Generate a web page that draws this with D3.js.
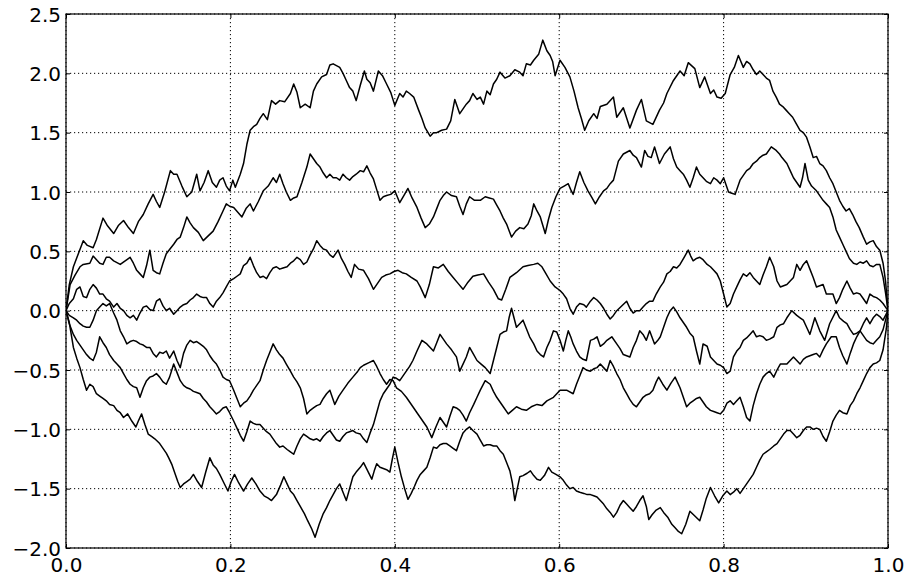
<!DOCTYPE html>
<html>
<head>
<meta charset="utf-8">
<script src="https://cdn.jsdelivr.net/npm/d3@7/dist/d3.min.js"></script>
<style>
  body { margin: 0; background: #fff; }
  svg { display: block; }
  .tick text { font-family: "DejaVu Sans", sans-serif; font-size: 20px; fill: #000; }
  .tick line { stroke: #000; stroke-width: 1; }
</style>
</head>
<body>
<svg width="912" height="581"></svg>
<script>
// six bridge paths as [t, value]
var pathA = [[0,0],[0.004,0.22],[0.009,0.37],[0.015,0.48],[0.021,0.59],[0.026,0.55],[0.033,0.53],[0.037,0.60],[0.045,0.78],[0.050,0.72],[0.058,0.65],[0.064,0.72],[0.070,0.76],[0.076,0.70],[0.082,0.65],[0.088,0.75],[0.094,0.81],[0.100,0.90],[0.106,0.98],[0.110,0.92],[0.114,0.87],[0.120,1.00],[0.127,1.18],[0.131,1.15],[0.135,1.15],[0.141,1.05],[0.147,0.96],[0.153,1.00],[0.159,1.15],[0.163,1.01],[0.168,1.08],[0.173,1.18],[0.178,1.08],[0.183,1.04],[0.187,1.10],[0.191,1.12],[0.195,1.05],[0.199,1.01],[0.203,1.10],[0.206,1.04],[0.212,1.15],[0.216,1.24],[0.220,1.40],[0.224,1.52],[0.228,1.55],[0.232,1.57],[0.236,1.62],[0.240,1.66],[0.245,1.61],[0.250,1.77],[0.255,1.74],[0.260,1.77],[0.266,1.76],[0.273,1.83],[0.277,1.91],[0.281,1.84],[0.285,1.71],[0.291,1.74],[0.297,1.71],[0.301,1.85],[0.305,1.91],[0.311,1.97],[0.317,1.99],[0.321,2.07],[0.325,2.08],[0.333,2.05],[0.337,2.00],[0.341,1.94],[0.345,1.88],[0.349,1.85],[0.353,1.77],[0.358,1.90],[0.363,2.02],[0.366,1.95],[0.370,1.92],[0.374,1.85],[0.380,2.02],[0.385,1.98],[0.390,1.91],[0.395,1.84],[0.400,1.73],[0.406,1.83],[0.410,1.80],[0.414,1.85],[0.418,1.83],[0.423,1.80],[0.429,1.69],[0.433,1.62],[0.437,1.54],[0.443,1.47],[0.447,1.50],[0.451,1.50],[0.457,1.52],[0.463,1.53],[0.468,1.60],[0.473,1.78],[0.479,1.66],[0.483,1.70],[0.487,1.74],[0.491,1.77],[0.495,1.83],[0.500,1.78],[0.504,1.80],[0.508,1.74],[0.512,1.85],[0.516,1.82],[0.520,1.91],[0.524,1.95],[0.528,2.01],[0.534,1.96],[0.540,1.98],[0.546,2.03],[0.552,2.01],[0.556,1.98],[0.560,2.08],[0.565,2.07],[0.569,2.11],[0.575,2.16],[0.580,2.28],[0.585,2.19],[0.589,2.15],[0.592,2.10],[0.595,1.98],[0.601,2.11],[0.607,2.05],[0.613,1.97],[0.618,1.85],[0.623,1.71],[0.627,1.62],[0.631,1.52],[0.636,1.60],[0.642,1.66],[0.646,1.62],[0.650,1.72],[0.658,1.74],[0.666,1.80],[0.670,1.63],[0.678,1.71],[0.686,1.54],[0.694,1.69],[0.700,1.78],[0.706,1.60],[0.714,1.57],[0.722,1.69],[0.727,1.75],[0.731,1.83],[0.739,1.94],[0.747,2.02],[0.752,1.98],[0.757,2.09],[0.765,2.04],[0.771,1.88],[0.777,1.97],[0.784,1.83],[0.788,1.86],[0.792,1.80],[0.797,1.79],[0.802,1.83],[0.808,1.99],[0.813,2.05],[0.818,2.15],[0.824,2.05],[0.828,2.10],[0.832,2.08],[0.836,2.03],[0.840,1.99],[0.844,2.02],[0.848,1.99],[0.852,1.96],[0.856,1.94],[0.860,1.85],[0.864,1.80],[0.868,1.74],[0.872,1.72],[0.876,1.69],[0.880,1.66],[0.884,1.63],[0.888,1.58],[0.893,1.52],[0.897,1.50],[0.901,1.46],[0.905,1.38],[0.909,1.29],[0.913,1.30],[0.917,1.24],[0.921,1.22],[0.925,1.18],[0.929,1.12],[0.933,1.07],[0.937,1.00],[0.941,0.93],[0.945,0.88],[0.949,0.84],[0.953,0.86],[0.957,0.81],[0.961,0.75],[0.965,0.70],[0.970,0.62],[0.974,0.56],[0.978,0.58],[0.982,0.59],[0.986,0.54],[0.990,0.51],[0.994,0.40],[0.997,0.25],[1,0]];

var pathB = [[0,0],[0.005,0.22],[0.011,0.30],[0.017,0.37],[0.021,0.39],[0.029,0.40],[0.033,0.46],[0.041,0.40],[0.045,0.39],[0.049,0.45],[0.053,0.45],[0.058,0.42],[0.066,0.39],[0.072,0.42],[0.078,0.45],[0.082,0.40],[0.086,0.34],[0.090,0.31],[0.094,0.28],[0.098,0.38],[0.102,0.51],[0.106,0.34],[0.110,0.32],[0.114,0.31],[0.118,0.40],[0.122,0.48],[0.131,0.56],[0.135,0.60],[0.139,0.62],[0.143,0.70],[0.147,0.79],[0.151,0.74],[0.155,0.70],[0.161,0.66],[0.167,0.59],[0.173,0.63],[0.179,0.67],[0.185,0.75],[0.191,0.84],[0.195,0.90],[0.199,0.88],[0.204,0.87],[0.209,0.83],[0.214,0.79],[0.219,0.86],[0.224,0.90],[0.228,0.84],[0.234,0.92],[0.240,1.01],[0.246,1.05],[0.252,1.12],[0.256,1.08],[0.260,1.15],[0.264,1.07],[0.268,1.00],[0.273,0.93],[0.277,0.95],[0.281,0.96],[0.287,1.08],[0.293,1.21],[0.297,1.32],[0.301,1.28],[0.305,1.24],[0.309,1.21],[0.313,1.16],[0.317,1.12],[0.321,1.15],[0.325,1.12],[0.329,1.12],[0.333,1.10],[0.337,1.15],[0.341,1.12],[0.345,1.10],[0.349,1.13],[0.353,1.15],[0.358,1.18],[0.362,1.17],[0.366,1.22],[0.370,1.16],[0.374,1.11],[0.378,1.02],[0.382,0.93],[0.386,0.96],[0.390,0.97],[0.395,0.98],[0.400,1.01],[0.406,0.91],[0.411,0.97],[0.416,1.03],[0.421,0.95],[0.427,0.87],[0.432,0.78],[0.437,0.70],[0.442,0.73],[0.447,0.79],[0.451,0.86],[0.455,0.93],[0.459,0.97],[0.463,1.00],[0.469,0.97],[0.475,0.96],[0.479,0.88],[0.483,0.81],[0.487,0.90],[0.491,0.96],[0.497,0.93],[0.504,0.93],[0.510,0.96],[0.515,0.95],[0.520,0.94],[0.524,0.89],[0.528,0.84],[0.532,0.78],[0.536,0.73],[0.542,0.62],[0.547,0.67],[0.552,0.70],[0.557,0.69],[0.562,0.73],[0.566,0.80],[0.569,0.90],[0.573,0.84],[0.577,0.79],[0.580,0.72],[0.583,0.65],[0.587,0.77],[0.591,0.87],[0.596,0.96],[0.601,1.03],[0.606,1.05],[0.611,1.07],[0.614,1.02],[0.617,0.98],[0.621,1.08],[0.625,1.17],[0.630,1.08],[0.635,1.01],[0.640,0.95],[0.644,0.90],[0.649,0.96],[0.654,1.01],[0.658,1.03],[0.662,1.07],[0.666,1.10],[0.672,1.26],[0.678,1.32],[0.686,1.35],[0.690,1.31],[0.694,1.29],[0.700,1.21],[0.704,1.35],[0.708,1.30],[0.712,1.29],[0.716,1.38],[0.722,1.24],[0.728,1.32],[0.735,1.38],[0.739,1.28],[0.743,1.21],[0.747,1.18],[0.751,1.15],[0.755,1.10],[0.759,1.04],[0.763,1.12],[0.767,1.21],[0.771,1.15],[0.775,1.12],[0.779,1.09],[0.784,1.07],[0.788,1.12],[0.792,1.10],[0.796,1.07],[0.800,1.12],[0.806,1.00],[0.810,0.99],[0.814,0.98],[0.820,1.10],[0.824,1.14],[0.828,1.18],[0.832,1.20],[0.836,1.24],[0.840,1.26],[0.844,1.29],[0.848,1.31],[0.852,1.32],[0.858,1.38],[0.864,1.35],[0.868,1.32],[0.871,1.29],[0.877,1.24],[0.881,1.18],[0.885,1.12],[0.889,1.08],[0.893,1.04],[0.896,1.12],[0.899,1.24],[0.903,1.10],[0.907,1.05],[0.913,1.01],[0.917,0.97],[0.921,0.93],[0.925,0.90],[0.929,0.87],[0.933,0.79],[0.937,0.68],[0.941,0.62],[0.945,0.56],[0.949,0.50],[0.953,0.44],[0.958,0.40],[0.962,0.39],[0.966,0.41],[0.970,0.40],[0.974,0.42],[0.978,0.38],[0.982,0.37],[0.986,0.39],[0.990,0.39],[0.994,0.28],[0.997,0.15],[1,0]];

var pathC = [[0,0],[0.004,0.06],[0.009,0.10],[0.013,0.18],[0.017,0.20],[0.021,0.12],[0.025,0.11],[0.029,0.18],[0.033,0.22],[0.037,0.19],[0.041,0.14],[0.045,0.14],[0.049,0.10],[0.053,0.08],[0.058,0.03],[0.062,0.06],[0.066,0.02],[0.070,0.0],[0.074,-0.04],[0.078,-0.06],[0.082,-0.04],[0.086,-0.08],[0.090,-0.02],[0.094,0.03],[0.098,0.04],[0.102,0.01],[0.106,0.0],[0.110,0.08],[0.114,0.10],[0.118,0.04],[0.122,0.0],[0.126,0.02],[0.131,-0.03],[0.135,0.0],[0.139,0.03],[0.143,0.05],[0.147,0.06],[0.151,0.09],[0.155,0.11],[0.159,0.14],[0.163,0.12],[0.167,0.11],[0.171,0.11],[0.175,0.06],[0.179,0.03],[0.183,0.08],[0.187,0.11],[0.191,0.15],[0.195,0.20],[0.199,0.25],[0.204,0.27],[0.208,0.29],[0.212,0.31],[0.216,0.38],[0.220,0.40],[0.224,0.45],[0.228,0.38],[0.232,0.32],[0.236,0.28],[0.240,0.29],[0.244,0.27],[0.248,0.32],[0.252,0.36],[0.256,0.37],[0.260,0.35],[0.264,0.36],[0.269,0.37],[0.273,0.40],[0.277,0.42],[0.281,0.45],[0.285,0.43],[0.289,0.39],[0.293,0.41],[0.297,0.47],[0.301,0.52],[0.305,0.59],[0.309,0.55],[0.313,0.52],[0.317,0.51],[0.321,0.47],[0.325,0.45],[0.331,0.51],[0.335,0.44],[0.339,0.39],[0.343,0.33],[0.347,0.28],[0.351,0.39],[0.356,0.35],[0.362,0.34],[0.368,0.27],[0.374,0.18],[0.379,0.23],[0.384,0.28],[0.389,0.30],[0.394,0.31],[0.399,0.33],[0.404,0.34],[0.409,0.32],[0.414,0.31],[0.420,0.28],[0.427,0.25],[0.431,0.20],[0.437,0.11],[0.442,0.22],[0.447,0.37],[0.453,0.36],[0.459,0.39],[0.465,0.33],[0.471,0.28],[0.477,0.23],[0.483,0.18],[0.489,0.24],[0.495,0.29],[0.501,0.30],[0.508,0.31],[0.514,0.24],[0.520,0.18],[0.526,0.10],[0.530,0.09],[0.535,0.18],[0.540,0.28],[0.548,0.32],[0.556,0.37],[0.562,0.38],[0.569,0.39],[0.574,0.40],[0.579,0.37],[0.584,0.31],[0.589,0.25],[0.595,0.20],[0.601,0.17],[0.605,0.14],[0.609,0.10],[0.613,0.02],[0.617,-0.03],[0.621,0.03],[0.625,0.06],[0.630,0.05],[0.633,0.03],[0.638,0.08],[0.642,0.11],[0.646,0.09],[0.650,0.06],[0.654,0.02],[0.658,-0.03],[0.662,-0.07],[0.666,-0.04],[0.670,0.0],[0.676,0.04],[0.682,0.08],[0.686,0.02],[0.690,-0.02],[0.694,0.0],[0.698,0.0],[0.702,0.03],[0.706,0.06],[0.710,0.08],[0.714,0.08],[0.718,0.14],[0.723,0.20],[0.727,0.24],[0.731,0.31],[0.735,0.33],[0.739,0.37],[0.743,0.36],[0.747,0.39],[0.752,0.45],[0.757,0.51],[0.760,0.46],[0.763,0.42],[0.767,0.44],[0.771,0.45],[0.775,0.43],[0.780,0.39],[0.784,0.37],[0.788,0.34],[0.792,0.31],[0.796,0.25],[0.800,0.14],[0.804,0.03],[0.808,0.06],[0.812,0.14],[0.816,0.20],[0.820,0.26],[0.824,0.31],[0.828,0.29],[0.832,0.32],[0.836,0.28],[0.840,0.25],[0.844,0.22],[0.848,0.30],[0.852,0.37],[0.856,0.45],[0.861,0.37],[0.865,0.25],[0.869,0.20],[0.873,0.21],[0.877,0.22],[0.881,0.25],[0.885,0.28],[0.889,0.39],[0.893,0.34],[0.897,0.39],[0.901,0.42],[0.905,0.35],[0.909,0.28],[0.913,0.20],[0.917,0.21],[0.921,0.22],[0.925,0.14],[0.929,0.14],[0.933,0.14],[0.937,0.06],[0.941,0.11],[0.945,0.18],[0.950,0.25],[0.954,0.19],[0.958,0.14],[0.962,0.15],[0.966,0.14],[0.970,0.10],[0.974,0.06],[0.978,0.14],[0.982,0.12],[0.986,0.11],[0.990,0.09],[0.994,0.06],[0.997,0.03],[1,0]];

var pathD = [[0,0],[0.004,-0.04],[0.009,-0.06],[0.013,-0.08],[0.017,-0.11],[0.021,-0.13],[0.025,-0.14],[0.029,-0.14],[0.033,-0.08],[0.037,0.0],[0.041,0.03],[0.045,0.06],[0.049,0.04],[0.053,0.06],[0.058,-0.02],[0.062,-0.08],[0.066,-0.17],[0.070,-0.22],[0.074,-0.28],[0.078,-0.26],[0.082,-0.25],[0.086,-0.26],[0.090,-0.28],[0.094,-0.29],[0.098,-0.31],[0.102,-0.31],[0.106,-0.36],[0.110,-0.39],[0.114,-0.35],[0.118,-0.36],[0.122,-0.34],[0.126,-0.40],[0.131,-0.34],[0.135,-0.42],[0.139,-0.48],[0.143,-0.36],[0.147,-0.29],[0.151,-0.25],[0.155,-0.27],[0.159,-0.26],[0.163,-0.28],[0.167,-0.30],[0.171,-0.33],[0.175,-0.38],[0.179,-0.42],[0.183,-0.45],[0.187,-0.50],[0.191,-0.56],[0.195,-0.58],[0.199,-0.59],[0.204,-0.67],[0.208,-0.74],[0.212,-0.81],[0.216,-0.78],[0.220,-0.76],[0.224,-0.72],[0.228,-0.67],[0.232,-0.63],[0.236,-0.59],[0.240,-0.50],[0.244,-0.42],[0.248,-0.35],[0.252,-0.28],[0.256,-0.33],[0.260,-0.37],[0.264,-0.40],[0.268,-0.45],[0.273,-0.51],[0.277,-0.56],[0.281,-0.60],[0.285,-0.65],[0.289,-0.74],[0.293,-0.87],[0.297,-0.84],[0.301,-0.82],[0.305,-0.80],[0.309,-0.79],[0.313,-0.74],[0.317,-0.70],[0.321,-0.67],[0.327,-0.79],[0.332,-0.72],[0.337,-0.67],[0.343,-0.61],[0.349,-0.56],[0.355,-0.51],[0.358,-0.48],[0.362,-0.46],[0.368,-0.44],[0.374,-0.42],[0.378,-0.47],[0.382,-0.53],[0.386,-0.58],[0.390,-0.62],[0.394,-0.58],[0.398,-0.59],[0.402,-0.65],[0.408,-0.68],[0.414,-0.73],[0.418,-0.77],[0.422,-0.81],[0.427,-0.86],[0.431,-0.90],[0.435,-0.94],[0.439,-0.98],[0.445,-1.07],[0.450,-0.98],[0.455,-0.90],[0.459,-0.94],[0.463,-0.98],[0.467,-0.89],[0.471,-0.81],[0.475,-0.82],[0.479,-0.84],[0.483,-0.88],[0.487,-0.93],[0.491,-0.86],[0.496,-0.79],[0.500,-0.73],[0.504,-0.67],[0.510,-0.59],[0.516,-0.62],[0.520,-0.68],[0.524,-0.73],[0.528,-0.77],[0.532,-0.81],[0.538,-0.87],[0.543,-0.84],[0.548,-0.81],[0.554,-0.83],[0.560,-0.84],[0.566,-0.81],[0.573,-0.79],[0.579,-0.80],[0.585,-0.76],[0.593,-0.73],[0.601,-0.67],[0.609,-0.67],[0.617,-0.70],[0.621,-0.62],[0.625,-0.55],[0.629,-0.48],[0.633,-0.50],[0.638,-0.51],[0.642,-0.49],[0.646,-0.48],[0.650,-0.45],[0.654,-0.48],[0.658,-0.51],[0.662,-0.42],[0.666,-0.47],[0.670,-0.53],[0.674,-0.58],[0.678,-0.65],[0.682,-0.70],[0.686,-0.75],[0.690,-0.79],[0.694,-0.81],[0.698,-0.77],[0.702,-0.73],[0.706,-0.71],[0.710,-0.70],[0.714,-0.67],[0.718,-0.60],[0.721,-0.56],[0.726,-0.62],[0.731,-0.67],[0.736,-0.61],[0.741,-0.56],[0.747,-0.65],[0.751,-0.73],[0.755,-0.81],[0.759,-0.78],[0.763,-0.76],[0.767,-0.74],[0.771,-0.73],[0.775,-0.77],[0.779,-0.81],[0.784,-0.84],[0.788,-0.85],[0.792,-0.86],[0.796,-0.87],[0.800,-0.84],[0.804,-0.78],[0.808,-0.76],[0.812,-0.79],[0.816,-0.76],[0.820,-0.73],[0.824,-0.81],[0.828,-0.90],[0.832,-0.93],[0.836,-0.80],[0.840,-0.70],[0.844,-0.62],[0.848,-0.56],[0.852,-0.53],[0.856,-0.51],[0.861,-0.56],[0.865,-0.50],[0.869,-0.45],[0.873,-0.45],[0.877,-0.45],[0.881,-0.42],[0.885,-0.39],[0.889,-0.42],[0.893,-0.45],[0.897,-0.41],[0.901,-0.39],[0.905,-0.38],[0.909,-0.37],[0.913,-0.36],[0.917,-0.39],[0.921,-0.33],[0.925,-0.28],[0.931,-0.22],[0.937,-0.22],[0.941,-0.31],[0.945,-0.38],[0.950,-0.45],[0.954,-0.36],[0.958,-0.28],[0.962,-0.22],[0.966,-0.17],[0.970,-0.11],[0.974,-0.06],[0.978,-0.11],[0.982,-0.06],[0.986,-0.03],[0.990,-0.05],[0.994,-0.08],[0.997,-0.04],[1,0]];

var pathE = [[0,0],[0.004,-0.11],[0.009,-0.20],[0.013,-0.25],[0.017,-0.29],[0.021,-0.33],[0.025,-0.37],[0.029,-0.40],[0.033,-0.42],[0.037,-0.35],[0.041,-0.22],[0.045,-0.27],[0.049,-0.31],[0.053,-0.37],[0.058,-0.42],[0.062,-0.45],[0.066,-0.48],[0.070,-0.53],[0.074,-0.58],[0.078,-0.62],[0.082,-0.64],[0.086,-0.65],[0.090,-0.73],[0.094,-0.65],[0.098,-0.59],[0.102,-0.56],[0.106,-0.55],[0.110,-0.53],[0.114,-0.56],[0.118,-0.60],[0.122,-0.62],[0.126,-0.56],[0.131,-0.45],[0.135,-0.52],[0.139,-0.59],[0.143,-0.63],[0.147,-0.65],[0.151,-0.66],[0.155,-0.68],[0.159,-0.69],[0.163,-0.70],[0.167,-0.74],[0.171,-0.77],[0.175,-0.81],[0.179,-0.84],[0.183,-0.87],[0.187,-0.85],[0.191,-0.82],[0.195,-0.81],[0.199,-0.86],[0.204,-0.93],[0.208,-0.99],[0.212,-1.05],[0.216,-1.10],[0.220,-1.02],[0.224,-0.93],[0.228,-0.95],[0.232,-0.96],[0.236,-0.96],[0.240,-0.99],[0.244,-1.02],[0.248,-1.04],[0.252,-1.08],[0.256,-1.12],[0.260,-1.15],[0.264,-1.14],[0.269,-1.17],[0.273,-1.19],[0.277,-1.21],[0.281,-1.14],[0.285,-1.08],[0.289,-1.04],[0.293,-1.06],[0.297,-1.08],[0.301,-1.09],[0.305,-1.08],[0.309,-1.10],[0.313,-1.06],[0.317,-1.03],[0.321,-1.01],[0.325,-1.05],[0.329,-1.09],[0.333,-1.10],[0.337,-1.06],[0.341,-1.03],[0.345,-1.02],[0.349,-1.01],[0.353,-1.03],[0.358,-1.04],[0.362,-1.08],[0.366,-1.11],[0.370,-1.03],[0.374,-0.96],[0.378,-0.86],[0.382,-0.76],[0.386,-0.70],[0.390,-0.66],[0.394,-0.62],[0.398,-0.56],[0.402,-0.57],[0.406,-0.59],[0.410,-0.55],[0.414,-0.51],[0.418,-0.47],[0.422,-0.42],[0.427,-0.34],[0.433,-0.25],[0.439,-0.28],[0.443,-0.31],[0.447,-0.34],[0.451,-0.27],[0.455,-0.20],[0.459,-0.24],[0.463,-0.28],[0.469,-0.33],[0.475,-0.39],[0.479,-0.51],[0.483,-0.45],[0.487,-0.39],[0.491,-0.31],[0.496,-0.37],[0.500,-0.42],[0.505,-0.45],[0.510,-0.48],[0.516,-0.53],[0.520,-0.42],[0.524,-0.31],[0.528,-0.20],[0.532,-0.18],[0.536,-0.17],[0.539,-0.06],[0.542,0.02],[0.545,-0.06],[0.548,-0.14],[0.552,-0.11],[0.556,-0.08],[0.560,-0.15],[0.564,-0.22],[0.569,-0.28],[0.573,-0.34],[0.577,-0.37],[0.581,-0.39],[0.585,-0.31],[0.589,-0.25],[0.593,-0.17],[0.597,-0.18],[0.601,-0.25],[0.605,-0.34],[0.608,-0.25],[0.611,-0.17],[0.614,-0.22],[0.617,-0.28],[0.621,-0.34],[0.625,-0.39],[0.629,-0.41],[0.633,-0.42],[0.638,-0.25],[0.642,-0.24],[0.646,-0.22],[0.650,-0.30],[0.654,-0.28],[0.658,-0.25],[0.664,-0.22],[0.670,-0.28],[0.674,-0.32],[0.678,-0.37],[0.682,-0.38],[0.686,-0.39],[0.690,-0.31],[0.694,-0.25],[0.698,-0.17],[0.702,-0.20],[0.706,-0.25],[0.710,-0.17],[0.716,-0.28],[0.720,-0.25],[0.723,-0.22],[0.727,-0.14],[0.731,-0.06],[0.735,0.0],[0.739,0.03],[0.743,-0.01],[0.747,-0.06],[0.751,-0.10],[0.755,-0.14],[0.759,-0.19],[0.763,-0.22],[0.767,-0.34],[0.771,-0.45],[0.775,-0.28],[0.780,-0.30],[0.784,-0.39],[0.788,-0.42],[0.792,-0.45],[0.796,-0.46],[0.800,-0.48],[0.804,-0.53],[0.808,-0.51],[0.812,-0.39],[0.816,-0.34],[0.820,-0.31],[0.824,-0.25],[0.828,-0.23],[0.832,-0.20],[0.836,-0.17],[0.840,-0.22],[0.844,-0.21],[0.848,-0.22],[0.852,-0.25],[0.856,-0.24],[0.861,-0.22],[0.865,-0.14],[0.869,-0.12],[0.873,-0.11],[0.877,-0.06],[0.883,0.0],[0.889,-0.04],[0.893,-0.06],[0.897,-0.08],[0.901,-0.14],[0.905,-0.20],[0.911,-0.06],[0.917,-0.17],[0.923,-0.25],[0.929,-0.11],[0.937,0.0],[0.941,-0.06],[0.946,-0.09],[0.950,-0.11],[0.954,-0.16],[0.958,-0.20],[0.962,-0.19],[0.966,-0.17],[0.970,-0.21],[0.974,-0.25],[0.978,-0.27],[0.982,-0.28],[0.986,-0.25],[0.990,-0.22],[0.994,-0.16],[0.997,-0.08],[1,0]];

var pathF = [[0,0],[0.004,-0.10],[0.009,-0.31],[0.013,-0.40],[0.017,-0.48],[0.021,-0.58],[0.025,-0.67],[0.029,-0.62],[0.033,-0.64],[0.037,-0.70],[0.041,-0.72],[0.045,-0.74],[0.049,-0.76],[0.053,-0.79],[0.058,-0.80],[0.062,-0.84],[0.066,-0.86],[0.070,-0.90],[0.075,-0.87],[0.080,-0.93],[0.085,-0.98],[0.088,-0.93],[0.092,-0.87],[0.096,-0.96],[0.100,-1.04],[0.104,-1.06],[0.108,-1.08],[0.114,-1.12],[0.118,-1.16],[0.122,-1.20],[0.125,-1.24],[0.129,-1.30],[0.133,-1.38],[0.136,-1.44],[0.139,-1.49],[0.143,-1.46],[0.147,-1.44],[0.151,-1.42],[0.155,-1.38],[0.160,-1.44],[0.165,-1.49],[0.170,-1.36],[0.175,-1.24],[0.179,-1.30],[0.183,-1.33],[0.187,-1.38],[0.192,-1.45],[0.197,-1.52],[0.201,-1.44],[0.205,-1.38],[0.210,-1.45],[0.216,-1.52],[0.221,-1.46],[0.226,-1.41],[0.231,-1.46],[0.236,-1.52],[0.241,-1.56],[0.246,-1.58],[0.250,-1.60],[0.256,-1.55],[0.261,-1.47],[0.265,-1.40],[0.269,-1.46],[0.273,-1.52],[0.277,-1.55],[0.281,-1.60],[0.285,-1.65],[0.290,-1.71],[0.294,-1.77],[0.299,-1.84],[0.303,-1.91],[0.308,-1.80],[0.313,-1.71],[0.317,-1.66],[0.321,-1.60],[0.325,-1.55],[0.329,-1.50],[0.333,-1.46],[0.337,-1.53],[0.341,-1.60],[0.345,-1.50],[0.349,-1.40],[0.353,-1.36],[0.358,-1.32],[0.362,-1.28],[0.367,-1.35],[0.372,-1.42],[0.375,-1.35],[0.378,-1.29],[0.382,-1.32],[0.386,-1.33],[0.390,-1.34],[0.394,-1.36],[0.397,-1.25],[0.400,-1.15],[0.404,-1.28],[0.408,-1.40],[0.412,-1.50],[0.416,-1.59],[0.420,-1.54],[0.424,-1.48],[0.427,-1.43],[0.431,-1.38],[0.435,-1.35],[0.439,-1.32],[0.443,-1.24],[0.447,-1.15],[0.451,-1.16],[0.455,-1.13],[0.459,-1.12],[0.463,-1.12],[0.467,-1.14],[0.471,-1.16],[0.475,-1.18],[0.479,-1.10],[0.483,-1.03],[0.487,-1.00],[0.491,-0.98],[0.495,-1.01],[0.500,-1.04],[0.504,-1.09],[0.508,-1.14],[0.512,-1.13],[0.516,-1.13],[0.520,-1.14],[0.524,-1.14],[0.528,-1.18],[0.532,-1.21],[0.536,-1.28],[0.540,-1.35],[0.543,-1.45],[0.546,-1.60],[0.549,-1.50],[0.552,-1.40],[0.556,-1.39],[0.561,-1.37],[0.565,-1.35],[0.569,-1.39],[0.573,-1.42],[0.577,-1.43],[0.582,-1.39],[0.587,-1.32],[0.591,-1.36],[0.596,-1.38],[0.601,-1.40],[0.605,-1.43],[0.609,-1.47],[0.613,-1.50],[0.617,-1.49],[0.621,-1.52],[0.625,-1.53],[0.630,-1.54],[0.634,-1.55],[0.638,-1.55],[0.642,-1.56],[0.646,-1.57],[0.650,-1.60],[0.654,-1.63],[0.658,-1.67],[0.662,-1.70],[0.666,-1.74],[0.670,-1.70],[0.674,-1.64],[0.678,-1.60],[0.682,-1.63],[0.686,-1.66],[0.690,-1.69],[0.694,-1.65],[0.698,-1.60],[0.702,-1.56],[0.706,-1.65],[0.709,-1.76],[0.713,-1.72],[0.718,-1.68],[0.723,-1.66],[0.727,-1.70],[0.732,-1.74],[0.737,-1.80],[0.741,-1.83],[0.745,-1.86],[0.749,-1.88],[0.754,-1.80],[0.759,-1.69],[0.765,-1.73],[0.771,-1.77],[0.775,-1.68],[0.779,-1.58],[0.784,-1.49],[0.789,-1.56],[0.794,-1.62],[0.799,-1.56],[0.804,-1.52],[0.808,-1.55],[0.812,-1.53],[0.816,-1.50],[0.820,-1.54],[0.824,-1.50],[0.828,-1.46],[0.832,-1.42],[0.836,-1.38],[0.840,-1.32],[0.844,-1.26],[0.848,-1.21],[0.852,-1.19],[0.856,-1.17],[0.861,-1.14],[0.865,-1.12],[0.869,-1.08],[0.873,-1.04],[0.877,-1.01],[0.881,-1.01],[0.885,-1.04],[0.889,-1.07],[0.893,-1.05],[0.897,-1.01],[0.901,-0.98],[0.905,-0.98],[0.909,-1.00],[0.913,-0.99],[0.917,-1.00],[0.921,-1.06],[0.925,-1.10],[0.929,-1.02],[0.933,-0.93],[0.937,-0.88],[0.941,-0.84],[0.945,-0.86],[0.950,-0.87],[0.954,-0.80],[0.958,-0.76],[0.962,-0.70],[0.966,-0.65],[0.970,-0.59],[0.974,-0.53],[0.978,-0.48],[0.982,-0.45],[0.986,-0.44],[0.990,-0.42],[0.994,-0.33],[0.998,-0.15],[1,0]];

var xTicks = [0, 0.2, 0.4, 0.6, 0.8, 1.0];
var yTicks = [-2.0, -1.5, -1.0, -0.5, 0.0, 0.5, 1.0, 1.5, 2.0, 2.5];

var svg = d3.select("svg"),
    plotL = 66, plotR = 888, plotT = 14, plotB = 548;

var x = d3.scaleLinear().domain([0, 1]).range([plotL, plotR]);
var y = d3.scaleLinear().domain([-2, 2.5]).range([plotB, plotT]);
var fmt = d3.format(".1f");

// dotted grid
var grid = svg.append("g");
grid.selectAll(".gx")
    .data(xTicks)
    .enter().append("line")
    .attr("x1", function(d) { return x(d); })
    .attr("x2", function(d) { return x(d); })
    .attr("y1", plotT).attr("y2", plotB)
    .attr("stroke", "#000").attr("stroke-width", 1)
    .attr("stroke-dasharray", "1.2,2.8");
grid.selectAll(".gy")
    .data(yTicks)
    .enter().append("line")
    .attr("y1", function(d) { return y(d); })
    .attr("y2", function(d) { return y(d); })
    .attr("x1", plotL).attr("x2", plotR)
    .attr("stroke", "#000").attr("stroke-width", 1)
    .attr("stroke-dasharray", "1.2,2.8");

svg.append("clipPath").attr("id", "plot")
    .append("rect").attr("x", plotL).attr("y", plotT)
    .attr("width", plotR - plotL).attr("height", plotB - plotT);

var line = d3.line()
    .x(function(d) { return x(d[0]); })
    .y(function(d) { return y(d[1]); });

svg.append("g").attr("clip-path", "url(#plot)")
    .selectAll("path")
    .data([pathA, pathB, pathC, pathD, pathE, pathF])
    .enter().append("path")
    .attr("d", line)
    .attr("fill", "none")
    .attr("stroke", "#000")
    .attr("stroke-width", 1.5)
    .attr("stroke-linejoin", "round");

// axes, ticks pointing inwards on all four sides
var gx = svg.append("g").attr("transform", "translate(0," + plotB + ")")
    .call(d3.axisBottom(x).tickValues(xTicks).tickFormat(fmt).tickSize(-4).tickSizeOuter(0).tickPadding(9.5));
var gy = svg.append("g").attr("transform", "translate(" + plotL + ",0)")
    .call(d3.axisLeft(y).tickValues(yTicks).tickFormat(fmt).tickSize(-4).tickSizeOuter(0).tickPadding(5));
gy.selectAll("text").attr("dy", "0.36em");
var gt = svg.append("g").attr("transform", "translate(0," + plotT + ")")
    .call(d3.axisTop(x).tickValues(xTicks).tickFormat("").tickSize(-4).tickSizeOuter(0));
var gr = svg.append("g").attr("transform", "translate(" + plotR + ",0)")
    .call(d3.axisRight(y).tickValues(yTicks).tickFormat("").tickSize(-4).tickSizeOuter(0));

[gx, gy, gt, gr].forEach(function(g) {
    g.attr("font-family", null).attr("font-size", null);
    g.select(".domain").remove();
});

svg.append("rect")
    .attr("x", plotL).attr("y", plotT)
    .attr("width", plotR - plotL).attr("height", plotB - plotT)
    .attr("fill", "none").attr("stroke", "#000").attr("stroke-width", 1.2);
</script>
</body>
</html>
